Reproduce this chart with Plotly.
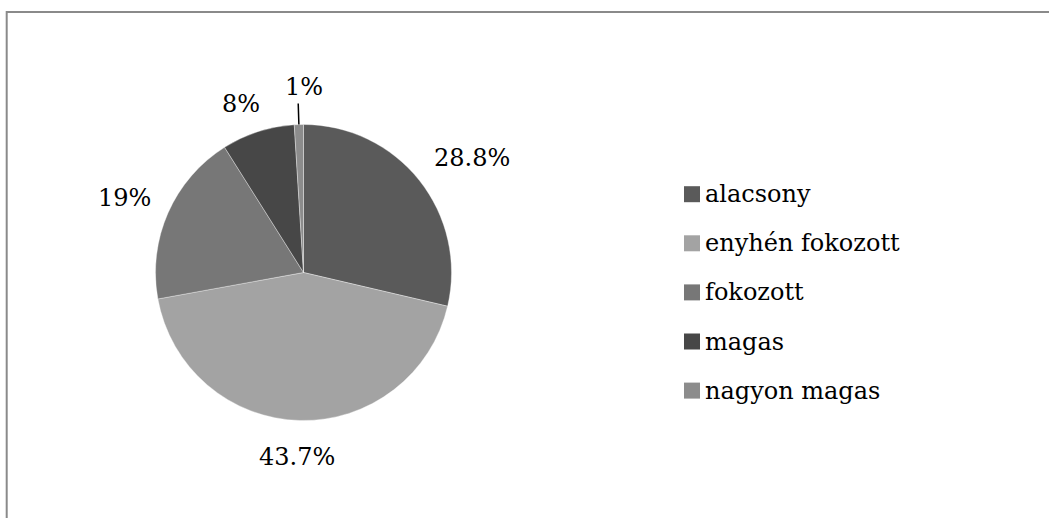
import math
import plotly.graph_objects as go

# Risk category shares
categories = ["alacsony", "enyhén fokozott", "fokozott", "magas", "nagyon magas"]
values = [28.8, 43.7, 19, 8, 1]
value_labels = ["28.8%", "43.7%", "19%", "8%", "1%"]
colors = ["#5a5a5a", "#a3a3a3", "#777777", "#474747", "#8c8c8c"]

# Canvas and pie geometry (pixels)
W, H = 1049, 518
CX, CY, R = 303.5, 272.5, 148
FONT = "DejaVu Serif"
FS = 24


def px(x):
    return x / W


def py(y):
    return 1 - y / H


def text_width(s):
    widths = {".": 0.318, "%": 0.95}
    return sum(widths.get(ch, 0.636) for ch in s) * FS


fig = go.Figure(
    go.Pie(
        labels=categories,
        values=values,
        sort=False,
        direction="clockwise",
        rotation=0,
        marker=dict(colors=colors, line=dict(color="rgba(255,255,255,0.35)", width=1)),
        textinfo="none",
        hoverinfo="label+percent",
        showlegend=False,
        domain=dict(x=[px(CX - R), px(CX + R)], y=[py(CY + R), py(CY - R)]),
    )
)

annotations = []
shapes = []

# Data labels placed outside each slice at its mid-angle
total = sum(values)
cum = 0.0
for v, lab in zip(values, value_labels):
    mid = math.radians((cum + v / 2) / total * 360)
    cum += v
    s, c = math.sin(mid), math.cos(mid)
    if v / total < 0.02:
        # thin slice: leader line, label above its end
        r0, r1 = R, R + 21
        x0, y0 = CX + r0 * s, CY - r0 * c
        x1, y1 = CX + r1 * s, CY - r1 * c
        shapes.append(dict(type="line", xref="paper", yref="paper",
                           x0=px(x0), y0=py(y0), x1=px(x1), y1=py(y1),
                           line=dict(color="black", width=1.5)))
        annotations.append(dict(x=px(x1 + 6), y=py(y1 - 1), xref="paper", yref="paper",
                                text=lab, showarrow=False, xanchor="center", yanchor="bottom",
                                font=dict(family=FONT, size=FS, color="black")))
        continue
    gap = 18
    w, h = text_width(lab), 30
    bx = CX + (R + gap) * s + w / 2 * max(-1, min(1, 2 * s))
    by = CY - (R + gap) * c - h / 2 * max(-1, min(1, 2 * c)) + 4
    annotations.append(dict(x=px(bx), y=py(by), xref="paper", yref="paper",
                            text=lab, showarrow=False, xanchor="center", yanchor="middle",
                            font=dict(family=FONT, size=FS, color="black")))

# Legend: square swatch + label per category
LEG_X, LEG_Y0, LEG_DY, SW = 684, 194.2, 49.1, 16
for i, (cat, col) in enumerate(zip(categories, colors)):
    yc = LEG_Y0 + i * LEG_DY
    shapes.append(dict(type="rect", xref="paper", yref="paper",
                       x0=px(LEG_X), x1=px(LEG_X + SW), y0=py(yc + SW / 2), y1=py(yc - SW / 2),
                       fillcolor=col, line=dict(width=0)))
    annotations.append(dict(x=px(LEG_X + SW + 3), y=py(yc), xref="paper", yref="paper",
                            text=cat, showarrow=False, xanchor="left", yanchor="middle",
                            font=dict(family=FONT, size=FS, color="black")))

# Chart-area frame
shapes.append(dict(type="rect", xref="paper", yref="paper",
                   x0=px(6.7), y0=py(12), x1=1.05, y1=-0.05,
                   line=dict(color="#8a8a8a", width=2), fillcolor="rgba(0,0,0,0)"))

fig.update_layout(
    width=W, height=H,
    margin=dict(l=0, r=0, t=0, b=0),
    paper_bgcolor="white",
    plot_bgcolor="white",
    showlegend=False,
    font=dict(family=FONT),
    annotations=annotations,
    shapes=shapes,
)

fig.write_html("out.html")
